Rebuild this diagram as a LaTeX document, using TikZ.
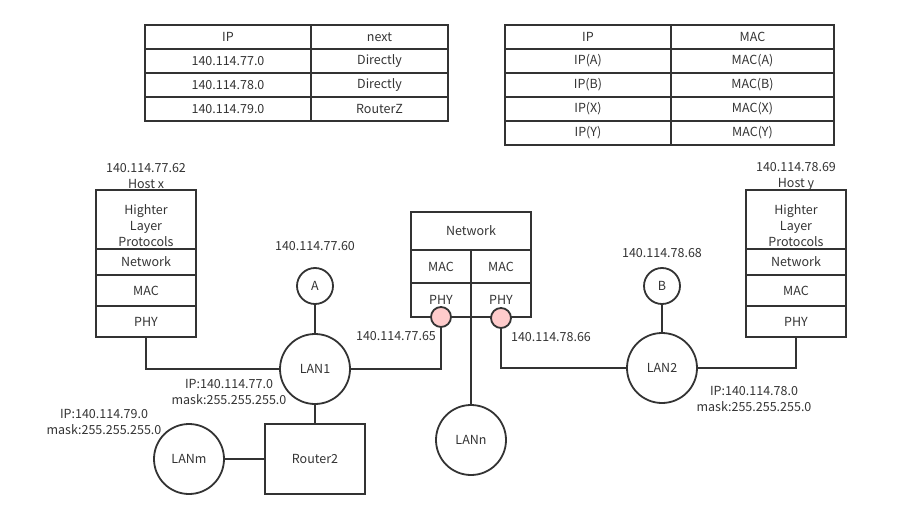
\documentclass[tikz,border=0pt]{standalone}
\usepackage{fontspec}
\setmainfont{Noto Sans CJK SC}
\usepackage{tikz}
\usetikzlibrary{positioning}
\definecolor{linec}{HTML}{333333}
\definecolor{portc}{HTML}{FFCCCC}

\begin{document}
\begin{tikzpicture}[x=1pt, y=-1pt, every node/.style={text=linec, font=\fontsize{12.5}{16}\selectfont}, ln/.style={draw=linec, line width=1.8pt}, cell/.style={ln, inner sep=0pt, outer sep=0pt, minimum height=24pt, anchor=north west}, layer/.style={ln, inner sep=0pt, outer sep=0pt, minimum width=100pt, align=center}, lan/.style={ln, circle, minimum size=70pt, inner sep=0pt}, host/.style={ln, circle, minimum size=36pt, inner sep=0pt}, port/.style={ln, circle, fill=portc, minimum size=20pt, inner sep=0pt}, lbl/.style={align=center, inner sep=0pt}]
            \useasboundingbox (0,0) rectangle (900,519);
            % routing table
            \node[cell, minimum width=166pt] (rt1a) at (145,25) {IP};
            \node[cell, minimum width=137pt] (rt1b) at (311,25) {next};
            \node[cell, minimum width=166pt] (rt2a) at (145,49) {140.114.77.0};
            \node[cell, minimum width=137pt] (rt2b) at (311,49) {Directly};
            \node[cell, minimum width=166pt] (rt3a) at (145,73) {140.114.78.0};
            \node[cell, minimum width=137pt] (rt3b) at (311,73) {Directly};
            \node[cell, minimum width=166pt] (rt4a) at (145,97) {140.114.79.0};
            \node[cell, minimum width=137pt] (rt4b) at (311,97) {RouterZ};
            % arp table
            \node[cell, minimum width=166pt] (at1a) at (505,25) {IP};
            \node[cell, minimum width=163pt] (at1b) at (671,25) {MAC};
            \node[cell, minimum width=166pt] (at2a) at (505,49) {IP(A)};
            \node[cell, minimum width=163pt] (at2b) at (671,49) {MAC(A)};
            \node[cell, minimum width=166pt] (at3a) at (505,73) {IP(B)};
            \node[cell, minimum width=163pt] (at3b) at (671,73) {MAC(B)};
            \node[cell, minimum width=166pt] (at4a) at (505,97) {IP(X)};
            \node[cell, minimum width=163pt] (at4b) at (671,97) {MAC(X)};
            \node[cell, minimum width=166pt] (at5a) at (505,121) {IP(Y)};
            \node[cell, minimum width=163pt] (at5b) at (671,121) {MAC(Y)};
            % host x
            \node[lbl] (xaddr) at (146,176) {140.114.77.62\\Host x};
            \node[layer, minimum height=59pt, anchor=north] (xhl) at (146,190) {};
            \node[lbl] (xhltext) at (146,226) {Highter\\Layer\\Protocols};
            \node[layer, minimum height=26pt, below=0pt of xhl] (xnet) {Network};
            \node[layer, minimum height=31pt, below=0pt of xnet] (xmac) {MAC};
            \node[layer, minimum height=31pt, below=0pt of xmac] (xphy) {PHY};
            % host y
            \node[lbl] (yaddr) at (796,176) {140.114.78.69\\Host y};
            \node[layer, minimum height=59pt, anchor=north] (yhl) at (796,190) {};
            \node[lbl] (yhltext) at (796,226) {Highter\\Layer\\Protocols};
            \node[layer, minimum height=26pt, below=0pt of yhl] (ynet) {Network};
            \node[layer, minimum height=31pt, below=0pt of ynet] (ymac) {MAC};
            \node[layer, minimum height=31pt, below=0pt of ymac] (yphy) {PHY};
            % router
            \node[layer, minimum width=120pt, minimum height=38pt, anchor=north] (rnet) at (471,212) {Network};
            \node[layer, minimum width=60pt, minimum height=33pt, anchor=north west] (rmac1) at (411,250) {MAC};
            \node[layer, minimum width=60pt, minimum height=33pt, anchor=north west] (rmac2) at (471,250) {MAC};
            \node[layer, minimum width=60pt, minimum height=34pt, anchor=north west] (rphy1) at (411,283) {PHY};
            \node[layer, minimum width=60pt, minimum height=34pt, anchor=north west] (rphy2) at (471,283) {PHY};
            \node[port] (p1) at (441,317) {};
            \node[port] (p2) at (501,318) {};
            \node[lbl] (p1addr) at (396,336) {140.114.77.65};
            \node[lbl] (p2addr) at (551,337) {140.114.78.66};
            % lans and stations
            \node[lan] (lan1) at (315,369) {LAN1};
            \node[lan] (lan2) at (662,368) {LAN2};
            \node[lan] (lann) at (471,440) {LANn};
            \node[lan] (lanm) at (189,459) {LANm};
            \node[host] (a) at (315,286) {A};
            \node[host] (b) at (662,286) {B};
            \node[lbl] (aaddr) at (315,246) {140.114.77.60};
            \node[lbl] (baddr) at (662,253) {140.114.78.68};
            \node[layer, minimum height=70pt] (router2) at (315,459) {Router2};
            \node[lbl] (lan1net) at (229,392) {IP:140.114.77.0\\mask:255.255.255.0};
            \node[lbl] (lan2net) at (754,399) {IP:140.114.78.0\\mask:255.255.255.0};
            \node[lbl] (lanmnet) at (104,422) {IP:140.114.79.0\\mask:255.255.255.0};
            % edges
            \draw [ln] (xphy.south) |- (lan1.west);
            \draw [ln] (p1.south) |- (lan1.east);
            \draw [ln] (p2.south) |- (lan2.west);
            \draw [ln] (yphy.south) |- (lan2.east);
            \draw [ln] (a) -- (lan1);
            \draw [ln] (b) -- (lan2);
            \draw [ln] (lan1) -- (router2);
            \draw [ln] (lanm) -- (router2);
            \draw [ln] (rphy1.south east) -- (lann);
        \end{tikzpicture}
\end{document}
